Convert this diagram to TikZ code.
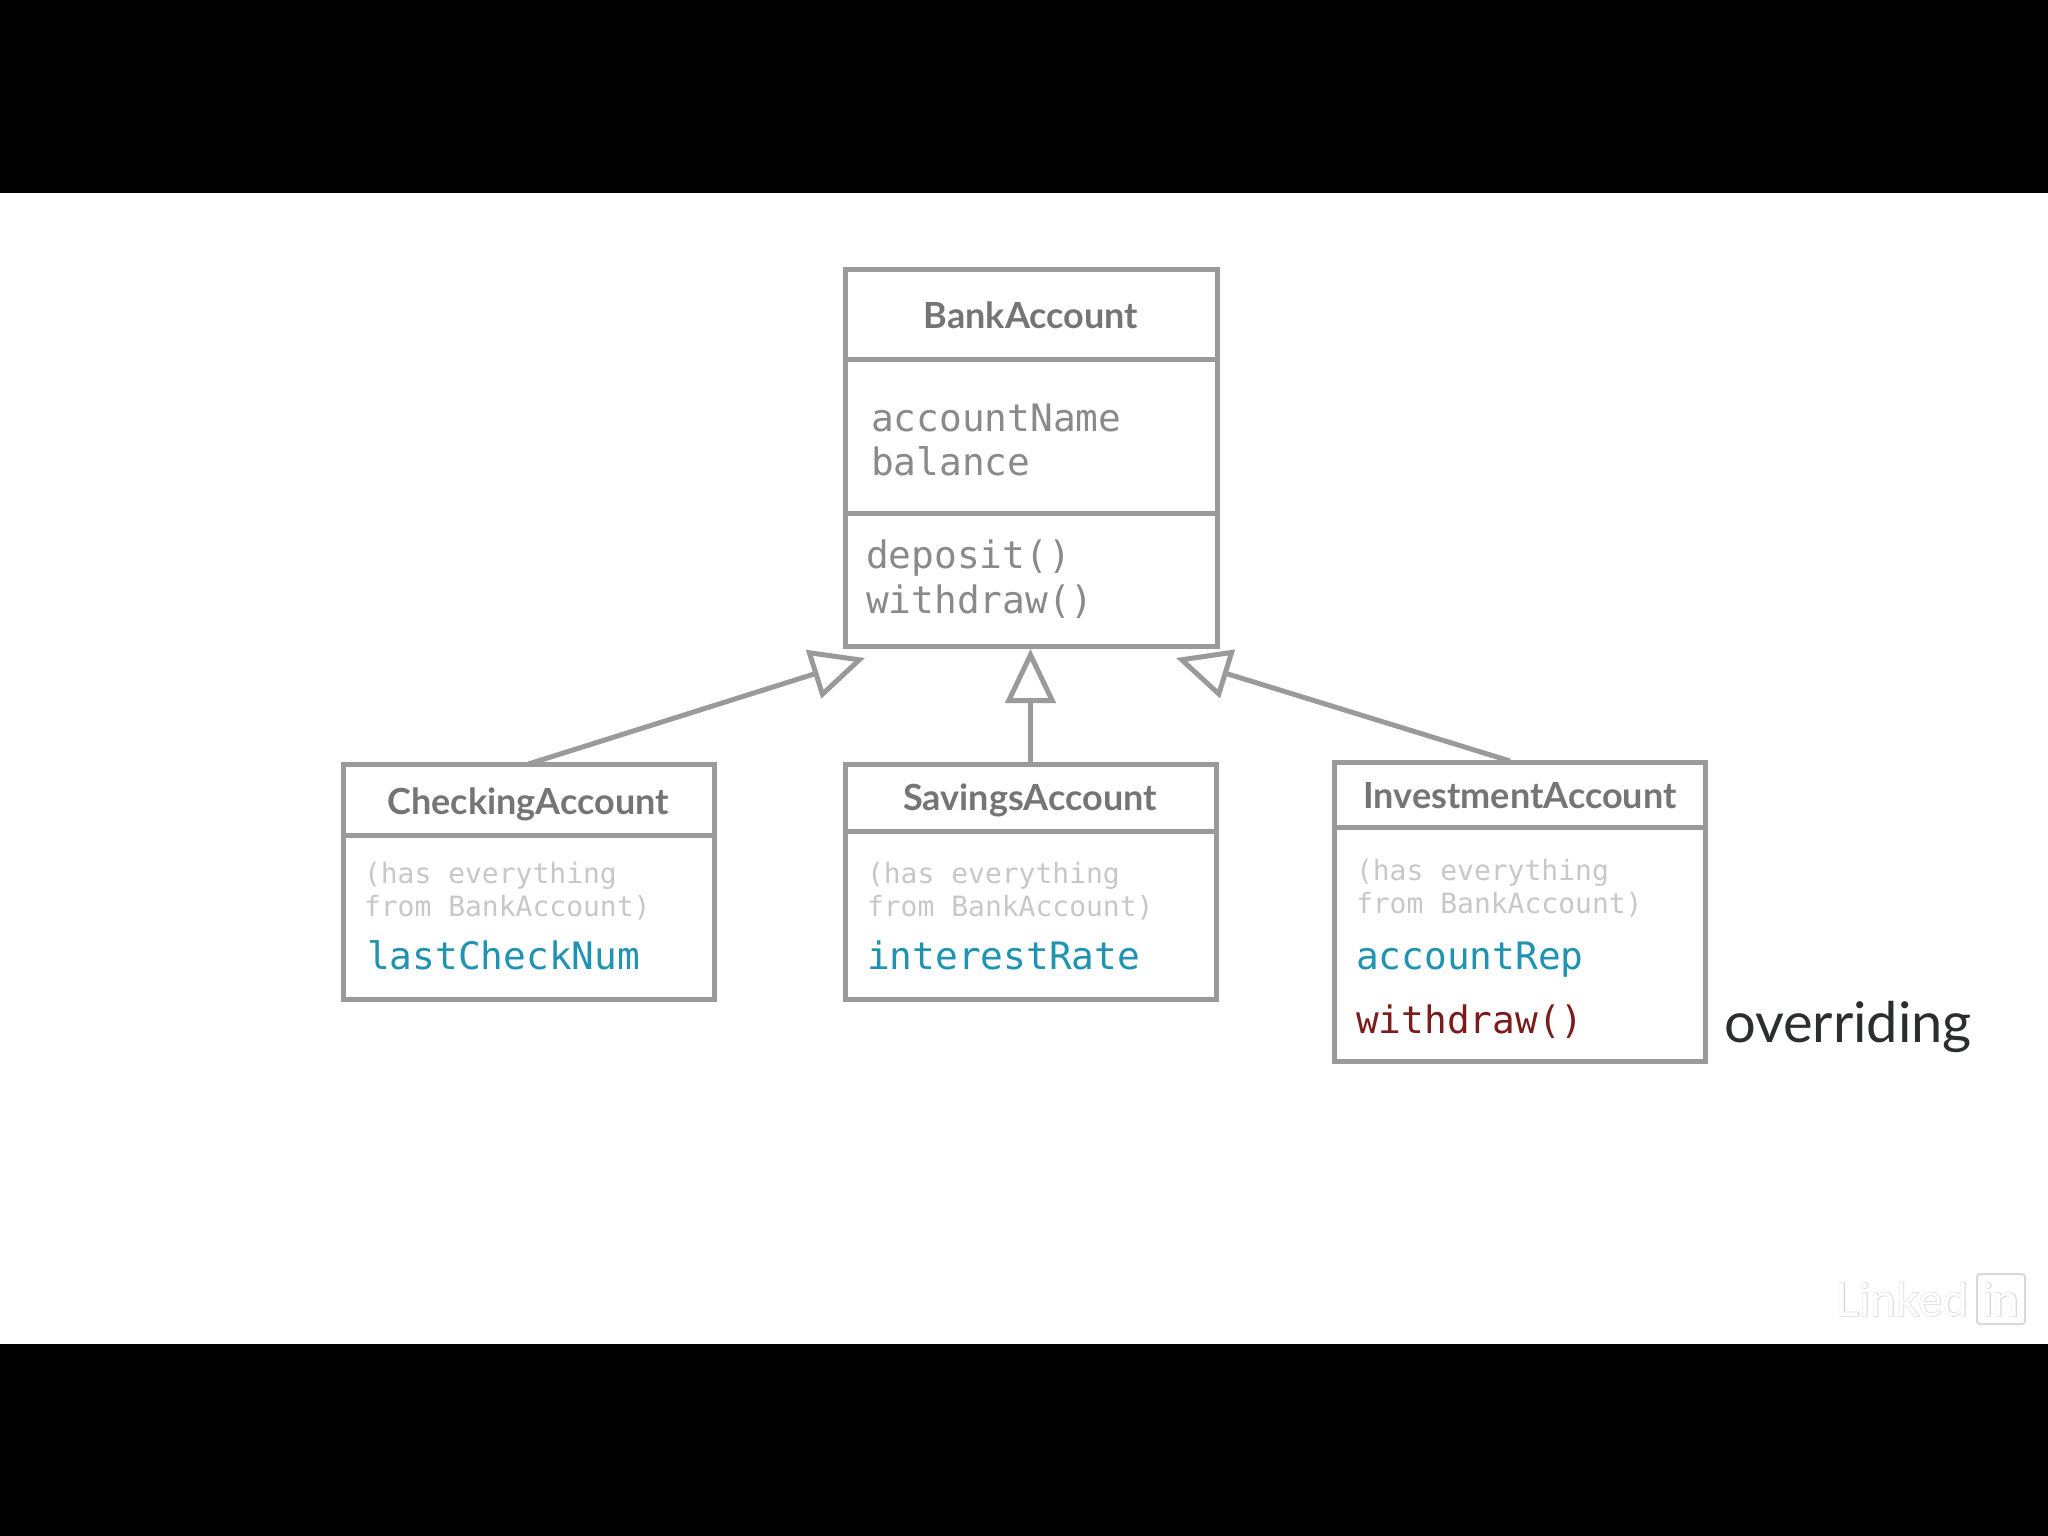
\documentclass[tikz,border=0pt]{standalone}
\usepackage{fontspec}
\setmainfont{Lato}
\setmonofont{DejaVu Sans Mono}
\newfontfamily\titlefont{Lato}[BoldFont={Lato Bold}]
\newfontfamily\logobold{Lato}[FakeBold=2.5]
\usetikzlibrary{arrows.meta}
\definecolor{bordergray}{HTML}{9A9A9A}
\definecolor{titlegray}{HTML}{757575}
\definecolor{codegray}{HTML}{8A8A8A}
\definecolor{faintgray}{HTML}{C8C8C8}
\definecolor{attrblue}{HTML}{2093B3}
\definecolor{overred}{HTML}{7B1C1C}
\definecolor{inkdark}{HTML}{2B2D2F}
\definecolor{logogray}{HTML}{D9D9D9}
\tikzset{
  x=1pt,y=-1pt,
  compart/.style={draw=bordergray,line width=5pt,rectangle,anchor=north west,inner sep=0pt,outer sep=0pt,fill=white},
  txt/.style={inner sep=0pt,outer sep=0pt,anchor=base west},
  classname/.style={txt,anchor=base,text=titlegray,font=\titlefont\bfseries\fontsize{#1}{#1}\selectfont},
  code/.style={txt,text=codegray,font=\ttfamily\fontsize{37.8}{44}\selectfont},
  faint/.style={txt,text=faintgray,font=\ttfamily\fontsize{28}{34}\selectfont},
  newattr/.style={txt,text=attrblue,font=\ttfamily\fontsize{37.8}{44}\selectfont},
  newmeth/.style={txt,text=overred,font=\ttfamily\fontsize{37.8}{44}\selectfont},
  inherit/.style={draw=bordergray,line width=5pt,-{Triangle[open,length=54pt,width=50pt,fill=white]}},
}
\begin{document}
\begin{tikzpicture}
\useasboundingbox (0,0) rectangle (2048,1536);
\fill[black] (0,0) rectangle (2048,1536);
\fill[white] (0,193) rectangle (2048,1344);
% BankAccount
\node[compart,minimum width=372pt,minimum height=90pt] (bankT) at (845,269) {};
\node[compart,minimum width=372pt,minimum height=154pt] (bankA) at (845,359) {};
\node[compart,minimum width=372pt,minimum height=133pt] (bankM) at (845,513) {};
\node[classname=36] (bankN) at (1031,328) {BankAccount};
\node[code] (bank1) at (871,431) {accountName};
\node[code] (bank2) at (871,475) {balance};
\node[code] (bank3) at (866,568) {deposit()};
\node[code] (bank4) at (866,613) {withdraw()};
% CheckingAccount
\node[compart,minimum width=371pt,minimum height=71pt] (chkT) at (343,764) {};
\node[compart,minimum width=371pt,minimum height=164pt] (chkB) at (343,835) {};
\node[classname=36] (chkN) at (528,814) {CheckingAccount};
\node[faint] (chk1) at (364,883) {(has everything};
\node[faint] (chk2) at (364,916) {from BankAccount)};
\node[newattr] (chk3) at (367,969) {lastCheckNum};
% SavingsAccount
\node[compart,minimum width=371pt,minimum height=67pt] (savT) at (845,764) {};
\node[compart,minimum width=371pt,minimum height=168pt] (savB) at (845,831) {};
\node[classname=36] (savN) at (1030,810) {SavingsAccount};
\node[faint] (sav1) at (867,883) {(has everything};
\node[faint] (sav2) at (867,916) {from BankAccount)};
\node[newattr] (sav3) at (867,969) {interestRate};
% InvestmentAccount
\node[compart,minimum width=371pt,minimum height=65pt] (invT) at (1334,762) {};
\node[compart,minimum width=371pt,minimum height=234pt] (invB) at (1334,827) {};
\node[classname=36] (invN) at (1520,808) {InvestmentAccount};
\node[faint] (inv1) at (1356,880) {(has everything};
\node[faint] (inv2) at (1356,913) {from BankAccount)};
\node[newattr] (inv3) at (1356,969) {accountRep};
\node[newmeth] (inv4) at (1356,1033) {withdraw()};
\node[txt,text=inkdark,font=\fontsize{56}{60}\selectfont] (over) at (1724,1042) {overriding};
% Inheritance connectors
\coordinate (tipL) at (865,658);
\coordinate (tipM) at (bankM.south);
\coordinate (tipR) at (1176,658);
\coordinate (fromR) at (1510,761);
\draw[inherit] (chkT.north) -- (tipL);
\draw[inherit] (savT.north) -- (savT.north |- 0,649);
\draw[inherit] (fromR) -- (tipR);
% Logo
\node[draw=logogray,line width=2pt,rounded corners=3pt,minimum width=48pt,minimum height=50pt,inner sep=0pt] (logoBox) at (2001,1299) {};
\node[txt,anchor=base,text=logogray,font=\logobold\fontsize{46}{50}\selectfont] (logoA) at (1902,1316) {Linked};
\node[txt,anchor=base,text=white,font=\fontsize{46}{50}\selectfont] (logoB) at (1902,1316) {Linked};
\node[txt,anchor=base,text=logogray,font=\logobold\fontsize{46}{50}\selectfont] (logoC) at (2001,1316) {in};
\node[txt,anchor=base,text=white,font=\fontsize{46}{50}\selectfont] (logoD) at (2001,1316) {in};
\end{tikzpicture}
\end{document}
